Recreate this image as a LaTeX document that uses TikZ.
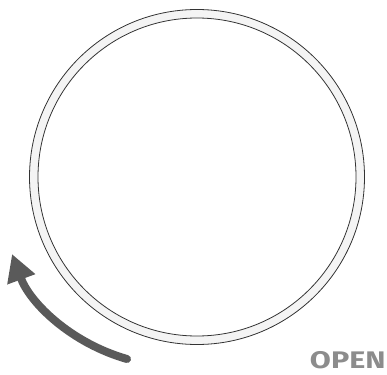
\documentclass[tikz,border=0pt]{standalone}
\usepackage{fontspec}
\usetikzlibrary{arrows.meta}
\newfontfamily\openfont{Fira Sans}
\definecolor{ringfill}{HTML}{F4F4F4}
\definecolor{ringline}{HTML}{333333}
\definecolor{arrowgray}{HTML}{5A5A5A}
\definecolor{labelgray}{HTML}{8C8C8C}
\tikzset{every picture/.style={line width=0.75pt}}

\begin{document}
\begin{tikzpicture}[x=1pt,y=-1pt]
    \useasboundingbox (0,0) rectangle (387,374);

    % ring
    \draw[ringline,fill=ringfill,even odd rule,line width=0.8pt]
        (197,177) circle (167.5) (197,177) circle (159);

    % turning arrow
    \draw[arrowgray,line width=8pt,line cap=round,-{Triangle[length=27pt,width=28pt]}]
        (127,359) .. controls (71,343) and (30,303) .. (12,254);

    % label
    \node[anchor=south east,inner sep=0pt,text=labelgray,font=\openfont\bfseries\fontsize{24}{24}\selectfont,xscale=1.27] (open) at (386,369) {OPEN};
\end{tikzpicture}
\end{document}
